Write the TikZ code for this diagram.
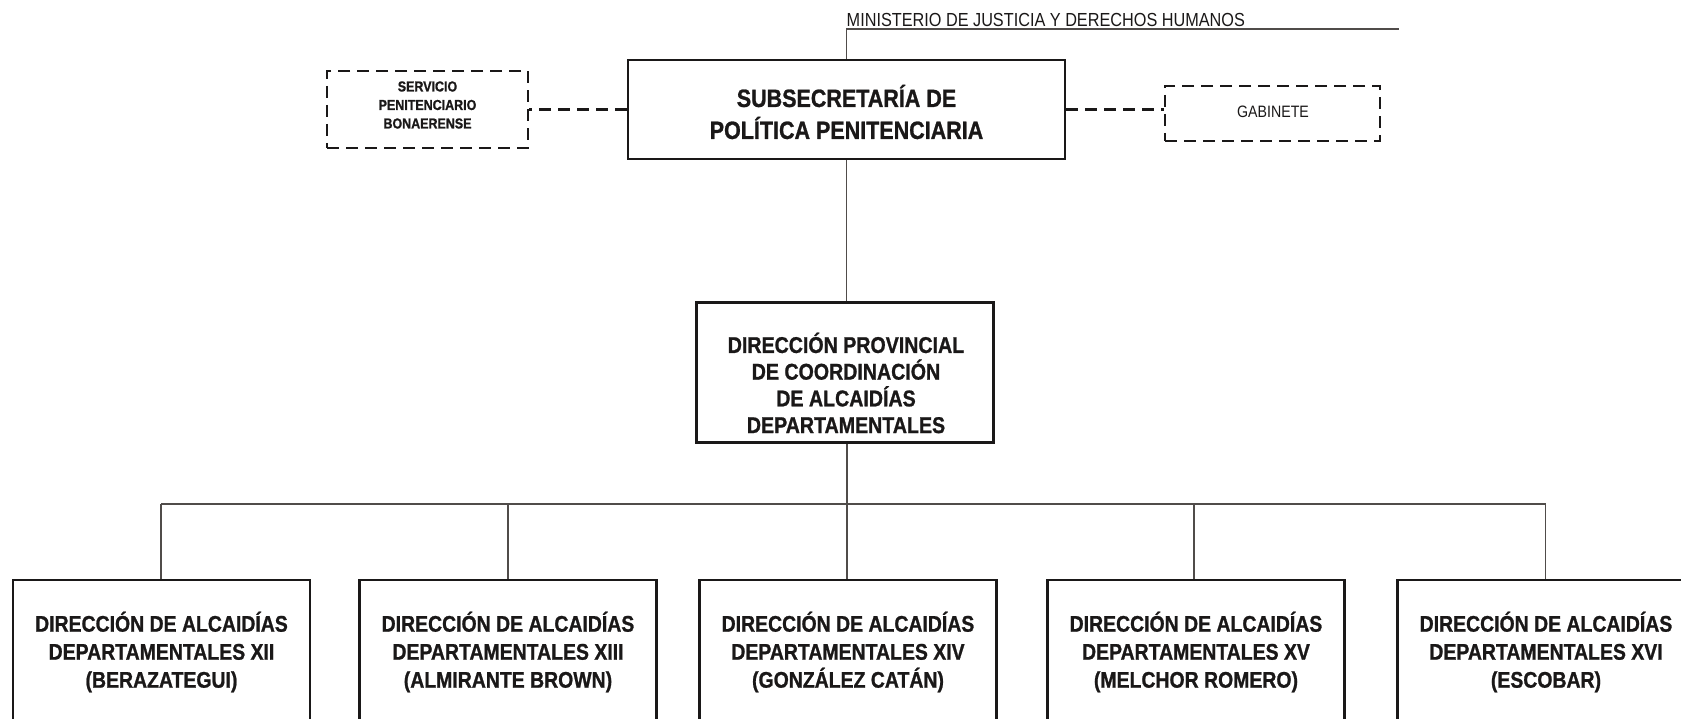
\documentclass[tikz,border=0pt]{standalone}
\usepackage{fontspec}
\setmainfont{Liberation Sans}[FakeStretch=0.86,BoldFeatures={FakeBold=1}]
\definecolor{ink}{RGB}{26,24,24}
\definecolor{wire}{RGB}{80,76,74}
\begin{document}
\begin{tikzpicture}[x=1pt,y=-1pt,
  solidbox/.style={draw=ink,line width=2.6pt,rectangle,inner sep=0pt},
  dashbox/.style={draw=ink,line width=2.8pt,dash pattern=on 12pt off 7pt,rectangle,inner sep=0pt},
  wireline/.style={draw=wire,line width=1.5pt},
  dashline/.style={draw=ink,line width=2.8pt,dash pattern=on 12pt off 7pt},
  txt/.style={text=ink,align=center,inner sep=0pt},
  bigtxt/.style={txt,font={\fontsize{25}{32}\selectfont\bfseries}},
  midtxt/.style={txt,font={\fontsize{22.8}{26.7}\selectfont\bfseries}},
  lowtxt/.style={txt,font={\fontsize{22.6}{28}\selectfont\bfseries}},
  smalltxt/.style={txt,font={\fontsize{14.5}{18.5}\selectfont\bfseries}},
  lowbox/.style={solidbox,minimum width=297pt,minimum height=144pt}
]
\useasboundingbox (0,0) rectangle (1681,719);
\clip (0,0) rectangle (1681,719);

% top
\node[solidbox,minimum width=437pt,minimum height=99pt] (sub) at (846.5,109.5) {};
\node[bigtxt] (subtxt) at (846.5,112) {SUBSECRETARÍA DE\\POLÍTICA PENITENCIARIA};

\coordinate (min) at (846.5,29);
\coordinate (minend) at (1399,29);
\node[anchor=base west,inner sep=0pt,text=ink,font={\fontsize{18.9}{22}\selectfont}] (mintxt) at (846.5,26.5) {MINISTERIO DE JUSTICIA Y DERECHOS HUMANOS};
\draw[wireline] (sub.north) -- (min) -- (minend);

\node[dashbox,minimum width=201pt,minimum height=77pt] (spb) at (427.5,109.5) {};
\node[smalltxt] (spbtxt) at (427.5,105) {SERVICIO\\PENITENCIARIO\\BONAERENSE};

\node[dashbox,minimum width=215pt,minimum height=55pt] (gab) at (1272.5,113.5) {};
\node[txt,font={\fontsize{16.5}{20}\selectfont}] (gabtxt) at (1273,112) {GABINETE};

\draw[dashline] (sub.west) -- (sub.west -| spb.east);
\draw[dashline] (sub.east) -- (sub.east -| gab.west);

% middle
\node[solidbox,minimum width=297pt,minimum height=140pt] (dp) at (845,372.5) {};
\node[midtxt] (dptxt) at (846,383) {DIRECCIÓN PROVINCIAL\\DE COORDINACIÓN\\DE ALCAIDÍAS\\DEPARTAMENTALES};
\draw[wireline] (sub.south) -- (sub.south |- dp.north);

% bus
\coordinate (busL) at (161,504);
\coordinate (busR) at (1545.5,504);
\draw[wireline] (busL) -- (busR);
\draw[wireline] (dp.south -| 847,0) -- (847,504);

% bottom boxes
\node[lowbox] (b1) at (161.5,652) {};
\node[lowbox] (b2) at (508,652) {};
\node[lowbox] (b3) at (848,652) {};
\node[lowbox] (b4) at (1196,652) {};
\node[lowbox] (b5) at (1546,652) {};

\node[lowtxt] (t1) at (161.5,652) {DIRECCIÓN DE ALCAIDÍAS\\DEPARTAMENTALES XII\\(BERAZATEGUI)};
\node[lowtxt] (t2) at (508,652) {DIRECCIÓN DE ALCAIDÍAS\\DEPARTAMENTALES XIII\\(ALMIRANTE BROWN)};
\node[lowtxt] (t3) at (848,652) {DIRECCIÓN DE ALCAIDÍAS\\DEPARTAMENTALES XIV\\(GONZÁLEZ CATÁN)};
\node[lowtxt] (t4) at (1196,652) {DIRECCIÓN DE ALCAIDÍAS\\DEPARTAMENTALES XV\\(MELCHOR ROMERO)};
\node[lowtxt] (t5) at (1546,652) {DIRECCIÓN DE ALCAIDÍAS\\DEPARTAMENTALES XVI\\(ESCOBAR)};

\draw[wireline] (b1.north -| busL) -- (busL);
\draw[wireline] (b2.north) -- (b2.north |- busL);
\draw[wireline] (b3.north -| 847,0) -- (847,504);
\draw[wireline] (b4.north -| 1194,0) -- (1194,504);
\draw[wireline] (b5.north -| busR) -- (busR);
\end{tikzpicture}
\end{document}
